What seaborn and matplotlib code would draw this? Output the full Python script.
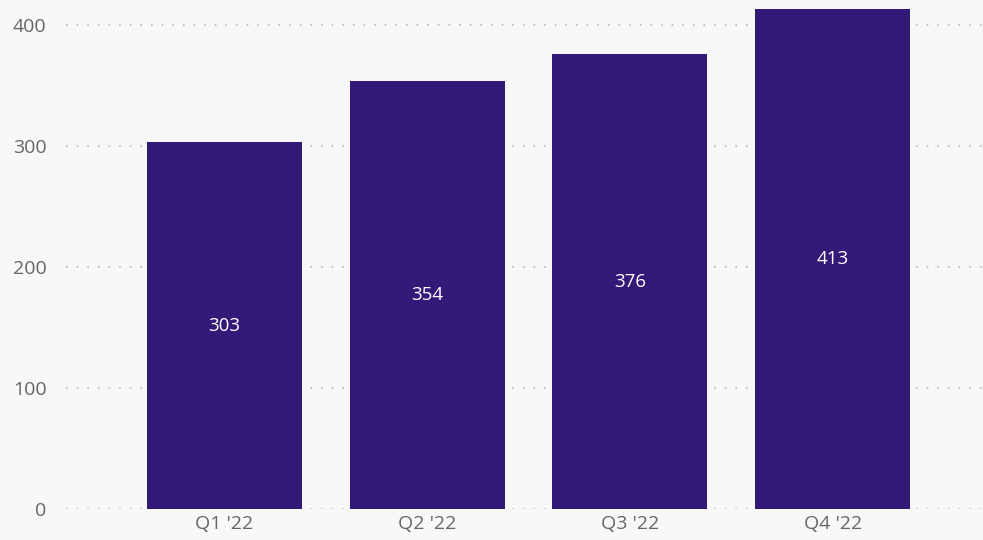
import seaborn as sns
import pandas as pd
import matplotlib.pyplot as plt

quarters = ["Q1 '22", "Q2 '22", "Q3 '22", "Q4 '22"]
values = [303, 354, 376, 413]
y_ticks = [0, 100, 200, 300, 400]

bg = "#f8f8f8"
bar_color = "#341a78"

sns.set_theme(style="white")
plt.rcParams['font.family'] = ['Open Sans', 'DejaVu Sans']

df = pd.DataFrame({"quarter": quarters, "value": values})

fig = plt.figure(figsize=(9.83, 5.4), dpi=100)
fig.patch.set_facecolor(bg)
ax = fig.add_axes([66 / 983, 31 / 540, 917 / 983, 509 / 540])
ax.set_facecolor(bg)

sns.barplot(data=df, x="quarter", y="value", color=bar_color, saturation=1,
            width=0.764, linewidth=0, ax=ax, zorder=2)

for i, v in enumerate(values):
    ax.text(i, v / 2, str(v), ha="center", va="center", color="white", fontsize=13.5)

ax.set_ylim(0, 509 / 1.21)
ax.set_xlim(-0.78, 3.74)
ax.set_yticks(y_ticks)
ax.yaxis.grid(True, linestyle=(0, (0.8, 4.3)), color="#c4c4c4", linewidth=1.5, zorder=0)
ax.set_axisbelow(True)
for s in ax.spines.values():
    s.set_visible(False)
ax.set_xlabel("")
ax.set_ylabel("")
ax.tick_params(axis="both", length=0, labelsize=14, labelcolor="#666666")
ax.tick_params(axis="y", pad=14)
ax.tick_params(axis="x", pad=4)

fig.savefig("out.png", dpi=100, facecolor=bg)
